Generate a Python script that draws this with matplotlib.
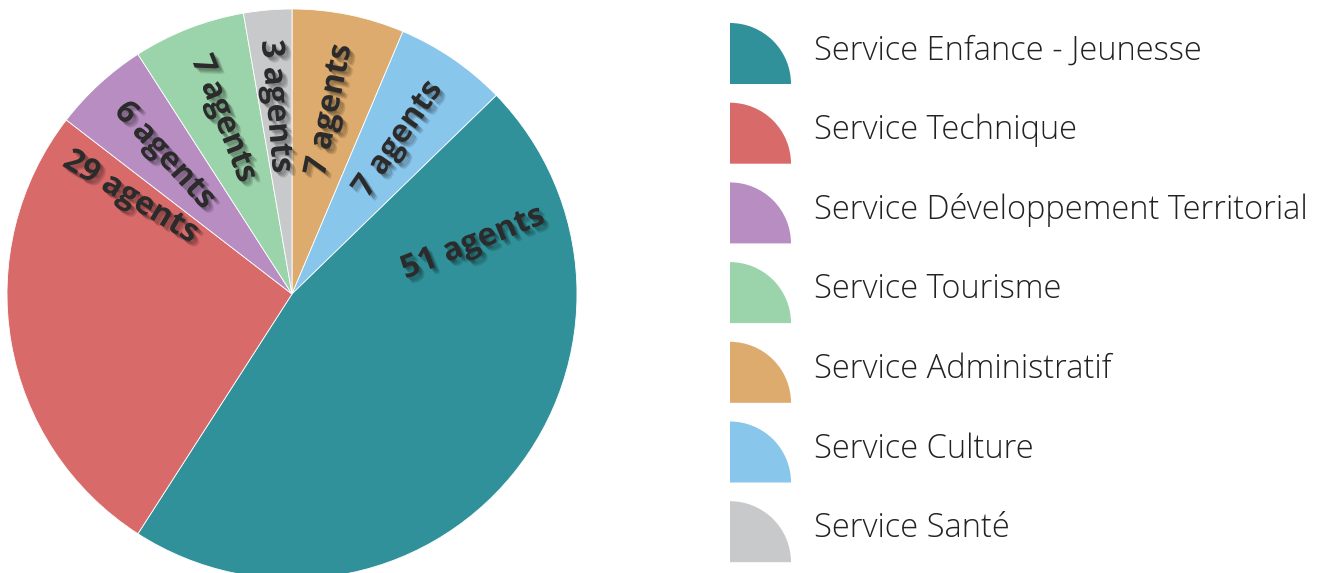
import matplotlib
matplotlib.use("Agg")
import matplotlib.pyplot as plt
import matplotlib.patches as patches
import matplotlib.patheffects as pe
import numpy as np

# legend order
services = ["Service Enfance - Jeunesse", "Service Technique",
            "Service Développement Territorial", "Service Tourisme",
            "Service Administratif", "Service Culture", "Service Santé"]
agents = [51, 29, 6, 7, 7, 7, 3]
colors = ["#31919A", "#D86A6A", "#B88EC2", "#9BD3AA", "#DDAB6D", "#89C6EB", "#C8C9CB"]

# order of the slices, clockwise from 12 o'clock
pie_order = [4, 5, 0, 1, 2, 3, 6]
# where the label sits inside its slice (0 = first edge, 1 = last edge, clockwise)
label_frac = {0: 0.17, 1: 0.93}

W, H = 1321, 573
fig = plt.figure(figsize=(W / 100, H / 100), dpi=100)
ax = fig.add_axes([0, 0, 1, 1])

cx, cy, R = 292, H - 294, 285
vals = [agents[i] for i in pie_order]
cols = [colors[i] for i in pie_order]
wedges, _ = ax.pie(vals, colors=cols, startangle=90, counterclock=False,
                   center=(cx, cy), radius=R, frame=True,
                   wedgeprops=dict(edgecolor="white", linewidth=0.6))

# soft shadow, a few faint layers
shadow = [pe.SimplePatchShadow(offset=(o, -o), shadow_rgbFace="black", alpha=0.12)
          for o in (1, 2, 3, 4)] + [pe.Normal()]
for k, w in zip(pie_order, wedges):
    t1, t2 = w.theta1, w.theta2  # counterclockwise degrees
    f = label_frac.get(k, 0.5)
    # clockwise drawing: first edge is theta2
    phi = t2 - f * (t2 - t1)
    a = np.deg2rad(phi)
    d = 188
    x, y = cx + d * np.cos(a), cy + d * np.sin(a)
    rot = phi if np.cos(a) >= 0 else phi - 180
    if k == 0:
        rot += 6
    ax.text(x, y, f"{agents[k]} agents", rotation=rot, rotation_mode="anchor",
            ha="center", va="center", fontsize=23, fontweight="bold",
            family="Open Sans", color="#2b2b2b", path_effects=shadow)

# legend with quarter-disc icons
y0, step, size = H - 84, 79.7, 61
for i, (name, c) in enumerate(zip(services, colors)):
    yb = y0 - i * step
    ax.add_patch(patches.Wedge((730, yb), size, 0, 90, facecolor=c, edgecolor="none"))
    ax.text(814, yb + size * 0.55, name, ha="left", va="center", fontsize=23.5,
            family="Open Sans", fontweight="light", color="#222222")

ax.set_xlim(0, W)
ax.set_ylim(0, H)
ax.set_aspect("equal")
ax.axis("off")
fig.savefig("out.png", dpi=100, facecolor="white")
